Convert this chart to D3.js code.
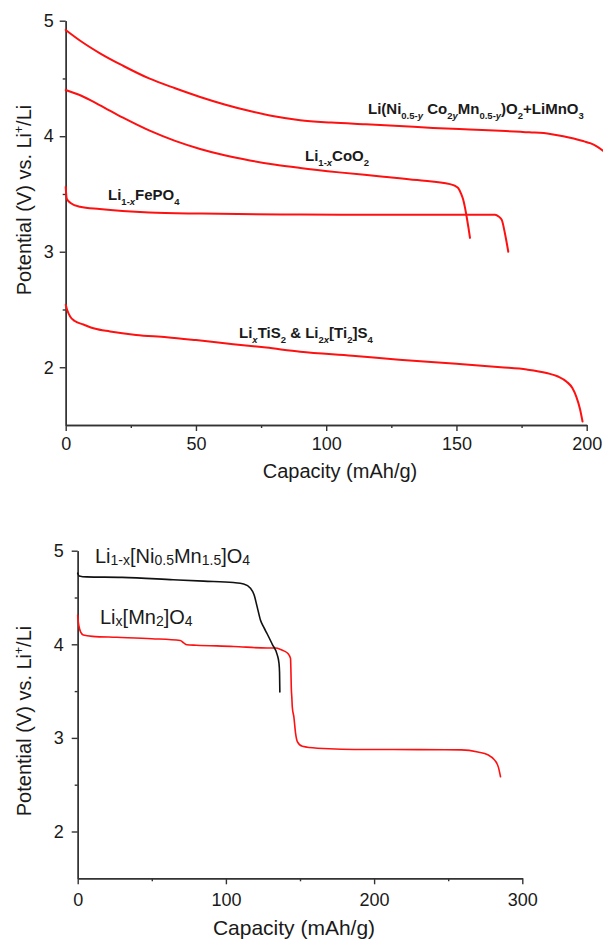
<!DOCTYPE html>
<html>
<head>
<meta charset="utf-8">
<script src="https://cdn.jsdelivr.net/npm/d3@7"></script>
<style>
  body { margin: 0; background: #fff; }
  svg { display: block; }
  text { font-family: "Liberation Sans", Arial, Helvetica, sans-serif; fill: #1a1a1a; }
</style>
</head>
<body>
<svg id="chart" width="603" height="941"></svg>
<script>
// ---------- Upper panel: layered / olivine / spinel-type cathodes ----------
const capLiNiCoMn = [0, 6, 13, 22, 32, 42, 51.6, 61, 70.7, 80, 90, 102, 115, 128, 141, 155, 166.7, 178, 186, 191, 195, 199, 201.3, 204, 207];
const vLiNiCoMn   = [4.92, 4.82, 4.72, 4.61, 4.50, 4.415, 4.34, 4.275, 4.218, 4.172, 4.138, 4.118, 4.103, 4.088, 4.072, 4.058, 4.047, 4.034, 4.02, 4.0, 3.98, 3.955, 3.94, 3.91, 3.86];

const capLiCoO2 = [0, 6, 13, 22, 32, 42, 51.6, 61, 70.7, 80, 90, 105, 122, 135, 147.5, 149.5, 150.7, 151.8, 152.6, 153.3, 153.9, 154.6, 155.2];
const vLiCoO2   = [4.40, 4.35, 4.27, 4.16, 4.05, 3.96, 3.89, 3.835, 3.79, 3.755, 3.725, 3.687, 3.65, 3.62, 3.585, 3.57, 3.55, 3.50, 3.45, 3.38, 3.305, 3.21, 3.12];

const capLiFePO4 = [0, 0.4, 2, 5.5, 13, 32, 52, 90, 130, 164.8, 166.2, 167.4, 168.6, 169.9];
const vLiFePO4   = [3.56, 3.46, 3.42, 3.39, 3.37, 3.34, 3.33, 3.322, 3.32, 3.32, 3.305, 3.275, 3.16, 3.0];

const capLiTiS2 = [0, 0.5, 1.7, 3.5, 6.8, 11, 17, 27, 38.8, 50, 64.3, 77, 90, 110, 128, 150, 167, 177, 184.6, 189, 192.3, 194.5, 196, 197.4, 198.4];
const vLiTiS2   = [2.54, 2.50, 2.44, 2.40, 2.37, 2.335, 2.31, 2.28, 2.26, 2.235, 2.20, 2.17, 2.135, 2.10, 2.065, 2.03, 2.0, 1.98, 1.95, 1.92, 1.875, 1.82, 1.745, 1.64, 1.53];

// ---------- Lower panel: spinel cathodes ----------
const capLiNiMnO4 = [0, 1, 6, 30, 64.5, 85, 105, 112, 116.6, 119, 121.1, 123.3, 125.6, 127.9, 131.3, 134.6, 135.8, 136.2, 136.4];
const vLiNiMnO4   = [4.76, 4.73, 4.72, 4.715, 4.69, 4.675, 4.66, 4.645, 4.60, 4.53, 4.40, 4.26, 4.18, 4.11, 4.0, 3.89, 3.80, 3.70, 3.49];

const capLiMn2O4 = [0, 0.4, 0.9, 2, 3.8, 10, 26.4, 50, 69.2, 71.5, 73.7, 80, 105.3, 127.9, 133.6, 137, 139.1, 142, 143.6, 143.9, 144.1, 144.5, 144.8, 145.9, 147, 148.2, 151.6, 161.7, 195.5, 230, 258.7, 270, 276.7, 281.2, 283.9, 285.3];
const vLiMn2O4   = [4.31, 4.24, 4.19, 4.13, 4.10, 4.085, 4.075, 4.06, 4.04, 4.015, 3.995, 3.99, 3.977, 3.96, 3.96, 3.945, 3.93, 3.90, 3.85, 3.70, 3.55, 3.43, 3.33, 3.22, 3.05, 2.96, 2.91, 2.89, 2.876, 2.875, 2.872, 2.85, 2.82, 2.765, 2.685, 2.585];

// ---------- Axis ticks ----------
const potentialTicks = [2, 3, 4, 5];
const potentialMinor = [2.5, 3.5, 4.5];
const capTicksTop    = [0, 50, 100, 150, 200];
const capMinorTop    = [25, 75, 125, 175];
const capTicksBottom = [0, 100, 200, 300];
const capMinorBottom = [50, 150, 250];

const svg = d3.select("#chart");
const AXIS = "#333";

// Text built from runs; sub/sup runs are shifted and shrunk, then restored.
function richText(parent, x, y, runs, base) {
  const t = parent.append("text").attr("x", x).attr("y", y)
    .attr("font-size", base.size).attr("font-weight", base.weight || "normal");
  let shift = 0;
  runs.forEach(r => {
    const target = r.sub ? base.subDy : (r.sup ? base.supDy : 0);
    const ts = t.append("tspan").text(r.t).attr("dy", target - shift);
    shift = target;
    if (r.sub || r.sup) ts.attr("font-size", r.sub ? base.subSize : base.supSize);
    if (r.i) ts.attr("font-style", "italic");
  });
  return t;
}

function styleAxis(sel) {
  sel.select(".domain").attr("stroke", AXIS).attr("stroke-width", 1.4);
  sel.selectAll(".tick line").attr("stroke", AXIS).attr("stroke-width", 1.4);
  sel.selectAll(".tick text").attr("fill", "#1a1a1a").attr("font-size", 18)
     .attr("font-family", '"Liberation Sans", Arial, sans-serif');
}

function panel(cfg) {
  const x = d3.scaleLinear().domain(cfg.xDomain).range(cfg.xRange);
  const y = d3.scaleLinear().domain(cfg.yDomain).range(cfg.yRange);
  const g = svg.append("g");
  const y0 = cfg.yRange[0], x0 = cfg.xRange[0];

  // minor ticks
  g.append("g").attr("transform", `translate(0,${y0})`)
    .call(d3.axisBottom(x).tickValues(cfg.xMinor).tickSize(3).tickFormat("").tickSizeOuter(0))
    .call(styleAxis);
  g.append("g").attr("transform", `translate(${x0},0)`)
    .call(d3.axisLeft(y).tickValues(potentialMinor).tickSize(3).tickFormat("").tickSizeOuter(0))
    .call(styleAxis);
  // major ticks
  g.append("g").attr("transform", `translate(0,${y0})`)
    .call(d3.axisBottom(x).tickValues(cfg.xTicks).tickSize(6).tickPadding(cfg.xPad).tickSizeOuter(0).tickFormat(d3.format("d")))
    .call(styleAxis);
  g.append("g").attr("transform", `translate(${x0},0)`)
    .call(d3.axisLeft(y).tickValues(potentialTicks).tickSize(6).tickPadding(cfg.yPad).tickSizeOuter(0).tickFormat(d3.format("d")))
    .call(styleAxis);

  const line = d3.line().x(d => x(d[0])).y(d => y(d[1])).curve(d3.curveMonotoneX);
  cfg.series.forEach(s => {
    g.append("path").datum(d3.zip(s.cap, s.v))
      .attr("fill", "none").attr("stroke", s.color).attr("stroke-width", s.width)
      .attr("stroke-linejoin", "round").attr("stroke-linecap", "round")
      .attr("d", line);
  });

  // axis titles
  const yl = g.append("text").attr("transform", `translate(${cfg.yLabel[0]},${cfg.yLabel[1]}) rotate(-90)`)
    .attr("text-anchor", "middle").attr("font-size", 20);
  yl.append("tspan").text("Potential (V) vs. Li");
  yl.append("tspan").text("+").attr("font-size", 12).attr("dy", -8);
  yl.append("tspan").text("/Li").attr("dy", 8);

  g.append("text").attr("x", cfg.xLabel[0]).attr("y", cfg.xLabel[1])
    .attr("text-anchor", "middle").attr("font-size", cfg.xLabelSize).text("Capacity (mAh/g)");
  return g;
}

const RED = "#ff1010";

const upperPanel = panel({
  xDomain: [0, 200], xRange: [65.7, 586.7],
  yDomain: [1.5, 5], yRange: [425, 20.7],
  xTicks: capTicksTop, xMinor: capMinorTop, xPad: 6, yPad: 6,
  yLabel: [31, 200], xLabel: [340, 478], xLabelSize: 20,
  series: [
    { cap: capLiNiCoMn, v: vLiNiCoMn, color: RED, width: 2 },
    { cap: capLiCoO2,   v: vLiCoO2,   color: RED, width: 2 },
    { cap: capLiFePO4,  v: vLiFePO4,  color: RED, width: 2 },
    { cap: capLiTiS2,   v: vLiTiS2,   color: RED, width: 2 }
  ]
});

const lowerPanel = panel({
  xDomain: [0, 300], xRange: [77.7, 522.3],
  yDomain: [1.5, 5], yRange: [878.3, 550.7],
  xTicks: capTicksBottom, xMinor: capMinorBottom, xPad: 9, yPad: 8,
  yLabel: [31, 721], xLabel: [294, 935], xLabelSize: 21,
  series: [
    { cap: capLiMn2O4,  v: vLiMn2O4,  color: RED,    width: 1.6 },
    { cap: capLiNiMnO4, v: vLiNiMnO4, color: "#111", width: 1.6 }
  ]
});

// ---------- curve labels ----------
const boldLbl = { size: 15, weight: "bold", subSize: 9.5, subDy: 5 };
richText(upperPanel, 368, 114, [
  { t: "Li(Ni" }, { t: "0.5-", sub: 1 }, { t: "y", sub: 1, i: 1 }, { t: " Co" },
  { t: "2", sub: 1 }, { t: "y", sub: 1, i: 1 }, { t: "Mn" }, { t: "0.5-", sub: 1 }, { t: "y", sub: 1, i: 1 },
  { t: ")O" }, { t: "2", sub: 1 }, { t: "+LiMnO" }, { t: "3", sub: 1 }
], boldLbl);
richText(upperPanel, 305, 161, [
  { t: "Li" }, { t: "1-", sub: 1 }, { t: "x", sub: 1, i: 1 }, { t: "CoO" }, { t: "2", sub: 1 }
], boldLbl);
richText(upperPanel, 108, 200, [
  { t: "Li" }, { t: "1-", sub: 1 }, { t: "x", sub: 1, i: 1 }, { t: "FePO" }, { t: "4", sub: 1 }
], boldLbl);
richText(upperPanel, 239, 338, [
  { t: "Li" }, { t: "x", sub: 1, i: 1 }, { t: "TiS" }, { t: "2", sub: 1 }, { t: " & Li" },
  { t: "2", sub: 1 }, { t: "x", sub: 1, i: 1 }, { t: "[Ti" }, { t: "2", sub: 1 }, { t: "]S" }, { t: "4", sub: 1 }
], boldLbl);

const plainLbl = { size: 20, subSize: 14, subDy: 2 };
richText(lowerPanel, 95, 563, [
  { t: "Li" }, { t: "1-x", sub: 1 }, { t: "[Ni" }, { t: "0.5", sub: 1 }, { t: "Mn" }, { t: "1.5", sub: 1 },
  { t: "]O" }, { t: "4", sub: 1 }
], plainLbl);
richText(lowerPanel, 100, 624, [
  { t: "Li" }, { t: "x", sub: 1 }, { t: "[Mn" }, { t: "2", sub: 1 }, { t: "]O" }, { t: "4", sub: 1 }
], plainLbl);
</script>
</body>
</html>
